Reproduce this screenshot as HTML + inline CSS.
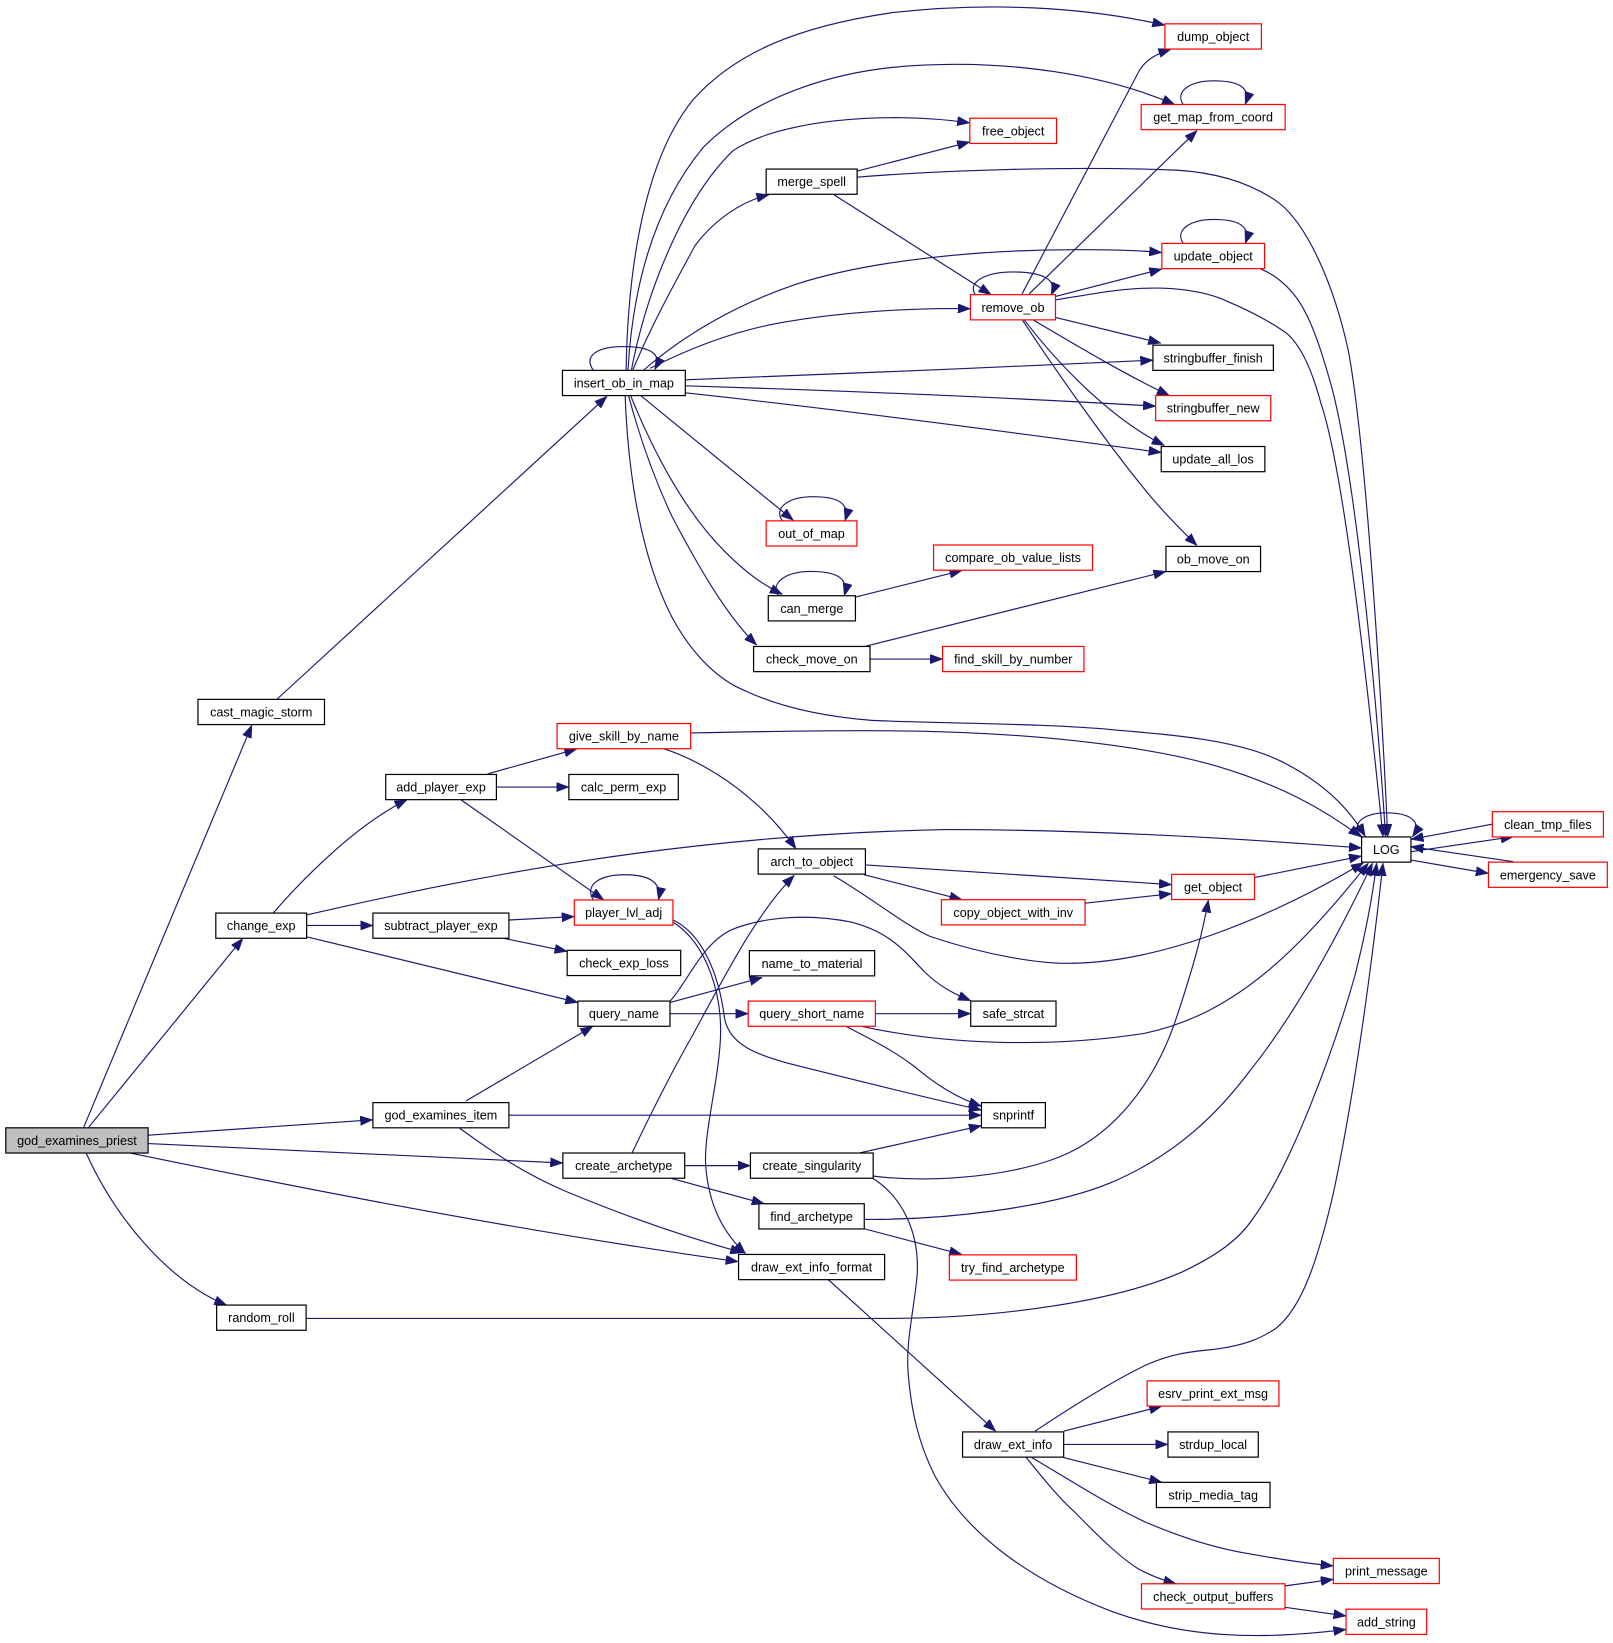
<!DOCTYPE html>
<html><head><meta charset="utf-8"><style>
html,body{margin:0;padding:0;background:#fff;}
svg{display:block;}
.e{fill:none;stroke:#191970;stroke-width:1.1;marker-end:url(#ah);}
.n rect{fill:#fff;stroke:#000;stroke-width:1.15;}
.n.r rect{stroke:#ff0000;}
.n text{font-family:"Liberation Sans",Arial,sans-serif;font-size:12px;text-anchor:middle;fill:#000;}
</style></head><body>
<svg width="1613" height="1643" viewBox="0 0 1536 1564.6" xmlns="http://www.w3.org/2000/svg">
<defs><marker id="ah" viewBox="0 0 12 9" refX="12" refY="4.5" markerWidth="12" markerHeight="9" markerUnits="userSpaceOnUse" orient="auto"><path d="M0,0 L12,4.5 L0,9 z" fill="#191970" stroke="#191970" stroke-width="0.5"/></marker></defs>
<rect width="1536" height="1564.6" fill="#fff"/>
<g>
<path class="e" d="M79.5,1074 L239.8,690.6"/>
<path class="e" d="M84,1074 L231.3,893.5"/>
<path class="e" d="M141.2,1081 L355,1066.4"/>
<path class="e" d="M141.2,1089 L536,1107.5"/>
<path class="e" d="M124,1098 C280,1130 480,1170 703,1201.5"/>
<path class="e" d="M82,1098 C110,1160 160,1220 216,1243"/>
<path class="e" d="M263.6,666 L578,377.4"/>
<path class="e" d="M260.2,869.4 C290,835 340,785 387.7,761.5"/>
<path class="e" d="M291.8,881.3 L355.1,881.3"/>
<path class="e" d="M292.5,871.2 C450,835 650,795 900,790 C1050,790 1200,800 1296.6,807.5"/>
<path class="e" d="M292.5,892.2 L550.3,954.6"/>
<path class="e" d="M464.2,737 L549.3,713.2"/>
<path class="e" d="M472.7,749.5 L541.7,749.5"/>
<path class="e" d="M438.7,761.5 L574.8,856.8"/>
<path class="e" d="M484.6,876.1 L546.9,872.8"/>
<path class="e" d="M479.6,893.5 L540.1,906"/>
<path class="e" d="M565,857 C556,842 572,833 595,833 C616,833 631,839 627,857"/>
<path class="e" d="M640.8,876 C670,890 685,930 690,970 C695,995 720,1005 760,1015 C820,1030 880,1045 934.6,1057"/>
<path class="e" d="M640.8,878 C675,900 688,950 686,990 C684,1030 670,1080 672,1110 C675,1150 690,1175 710,1194"/>
<path class="e" d="M636,955.2 L725.8,930.9"/>
<path class="e" d="M638,965.3 L712.5,965.3"/>
<path class="e" d="M638,953.5 C655,935 670,895 700,884 C730,873 770,870 810,878 C850,888 865,910 880,925 C895,940 910,947 924.4,953"/>
<path class="e" d="M833.6,965.3 L924.4,965.3"/>
<path class="e" d="M805.7,977.4 C830,990 850,1000 870,1015 C890,1032 910,1045 934.6,1053.5"/>
<path class="e" d="M821,977.4 C900,995 1000,998 1090,984 C1180,965 1240,900 1303,822"/>
<path class="e" d="M443.8,1048.4 L564.6,977.3"/>
<path class="e" d="M484.6,1062 L934.6,1062"/>
<path class="e" d="M437,1073.8 C470,1098 500,1118 540,1135 C600,1160 660,1180 707.4,1193"/>
<path class="e" d="M602,1097.6 C620,1060 640,1020 660,985 C690,930 720,870 756.4,833.5"/>
<path class="e" d="M651.9,1110 L714.6,1110"/>
<path class="e" d="M639.4,1122.2 L727.8,1146.3"/>
<path class="e" d="M819,1097.8 L934.6,1072"/>
<path class="e" d="M831.5,1120 C880,1126 950,1122 1000,1105 C1060,1085 1100,1030 1120,970 C1135,925 1145,890 1150.7,857"/>
<path class="e" d="M831,1122 C860,1140 876,1175 873.3,1215 C870,1250 862,1280 865,1310 C868,1345 875,1375 890,1405 C920,1460 980,1505 1060,1535 C1130,1560 1200,1562 1281.8,1551.7"/>
<path class="e" d="M822.4,1161.2 C900,1162 1000,1150 1057,1126.6 C1120,1100 1160,1060 1190,1020 C1230,970 1270,900 1307,822"/>
<path class="e" d="M822.4,1170 L915.9,1194.6"/>
<path class="e" d="M788.4,1218.3 L948.2,1362.9"/>
<path class="e" d="M291.4,1255.5 L850,1255.5 C950,1255 1060,1240 1125,1211.6 C1160,1195 1180,1180 1193,1160.6 C1230,1110 1270,1000 1290,930 C1300,890 1306,860 1311,822"/>
<path class="e" d="M985.6,1362.9 C1020,1340 1060,1315 1091,1300 C1120,1287 1140,1287 1159,1284.6 C1185,1281 1200,1275 1215,1265 C1240,1245 1255,1200 1270,1135 C1290,1040 1305,930 1317,822"/>
<path class="e" d="M1012.9,1362.9 L1106.4,1339.1"/>
<path class="e" d="M1012.9,1375.5 L1112.2,1375.5"/>
<path class="e" d="M1012.9,1388 L1106.4,1411.6"/>
<path class="e" d="M982.2,1387.8 C1020,1410 1050,1430 1091,1449.6 C1130,1466 1160,1475 1193,1480.3 C1220,1485 1245,1489 1269.7,1491.2"/>
<path class="e" d="M977.2,1387.8 C995,1410 1010,1428 1023,1439.5 C1045,1462 1065,1482 1084,1494 C1095,1500 1108,1505 1120,1508.2"/>
<path class="e" d="M1223.7,1510.2 L1269.7,1504"/>
<path class="e" d="M1223.7,1530.6 L1281.8,1538.8"/>
<path class="e" d="M1195,835.6 L1296.6,815.2"/>
<path class="e" d="M824.4,823.7 L1115.7,842.4"/>
<path class="e" d="M822.7,832.9 L916.2,856.8"/>
<path class="e" d="M793.8,834 C830,855 860,880 885.6,891.7 C940,910 990,918 1021.7,917.3 C1100,916 1200,880 1298.5,821.5"/>
<path class="e" d="M1033.3,860.1 L1115.7,851"/>
<path class="e" d="M657.8,698 C750,696 850,695 900,697 C1000,700 1100,712 1160,730 C1220,748 1260,770 1296,797"/>
<path class="e" d="M632.6,713.2 C660,722 690,740 710,757 C730,773 745,790 758,808.4"/>
<path class="e" d="M596.2,352.7 C598,250 615,150 660,95 C700,50 760,25 850,12 C940,2 1030,6 1109.3,24"/>
<path class="e" d="M598,352.7 C602,280 620,200 670,140 C720,90 800,65 880,62 C960,58 1050,70 1118.6,99.5"/>
<path class="e" d="M601.2,352.7 C615,280 650,190 697.9,143.6 C740,115 840,105 923.5,117"/>
<path class="e" d="M602.5,352.7 C620,310 645,265 661.9,233.8 C680,210 705,192 732.3,185.4"/>
<path class="e" d="M612.6,352.7 C650,320 700,290 760,270 C830,248 930,238 1021.8,237.8 C1060,237.5 1085,238.5 1106.4,240.5"/>
<path class="e" d="M619.2,350.7 C660,330 700,315 743.7,307.3 C800,297 870,293 924.1,294"/>
<path class="e" d="M652.6,361.7 C800,356 950,350 1097.9,343"/>
<path class="e" d="M652.6,367.4 C800,372 950,378 1100.5,386.8"/>
<path class="e" d="M652.6,374.1 C800,390 950,410 1105.8,430.9"/>
<path class="e" d="M609.5,376.2 L755.5,495.5"/>
<path class="e" d="M600.5,376.7 C620,425 650,485 690,525 C710,545 725,556 745,566"/>
<path class="e" d="M598.4,376.2 C610,420 625,460 640,492 C660,530 690,585 720.6,614.2"/>
<path class="e" d="M595.3,376.7 C598,450 610,530 640,588 C660,625 685,648 710,658 C740,672 780,682 830,686 C900,689 1000,689 1060,695 C1120,700 1180,705 1220,725 C1260,745 1285,770 1300,796.5"/>
<path class="e" d="M565,352.7 C555,338 570,330 594,330 C615,330 632,335 623.5,352"/>
<path class="e" d="M815.9,163 L923.5,135.2"/>
<path class="e" d="M815.9,168.7 C900,162 1020,158 1120.2,162 C1170,165 1200,180 1218.6,193.7 C1245,215 1270,270 1284,334 C1300,420 1315,650 1321.5,796.8"/>
<path class="e" d="M793,184.7 L943.8,280.6"/>
<path class="e" d="M929,281 C920,268 940,259 965,259 C990,259 1008,265 1001,281"/>
<path class="e" d="M973.3,279.9 L1085,67 C1092,56 1102,51 1115.2,46.8"/>
<path class="e" d="M980,279.9 L1139.9,124.3"/>
<path class="e" d="M1005.1,282.3 L1106.4,256.2"/>
<path class="e" d="M1005.1,285.6 C1040,280 1060,276 1087.4,274.6 C1120,273 1150,278 1169.4,287.3 C1195,298 1215,310 1225.1,317.3 C1240,330 1250,355 1257.9,384.1 C1280,450 1302,650 1317,796.8"/>
<path class="e" d="M1005.1,302.3 L1105.4,326.7"/>
<path class="e" d="M983.2,304.3 C1020,326 1070,356 1113.6,376.7"/>
<path class="e" d="M975,304.3 C1010,350 1060,400 1108.8,424.2"/>
<path class="e" d="M973.3,304.3 C1010,360 1060,430 1095,472 C1110,490 1125,505 1139.9,519.4"/>
<path class="e" d="M1126.7,99.5 C1118,86 1135,77 1156,77 C1177,77 1192,82 1185.8,99.5"/>
<path class="e" d="M1126.7,231.8 C1118,218 1135,209 1156,209 C1177,209 1192,214 1185.8,231.8"/>
<path class="e" d="M1200.6,256.2 C1215,262 1226,272 1234.9,283.9 C1250,305 1260,340 1267.8,367.4 C1290,450 1310,650 1319.5,796.8"/>
<path class="e" d="M745,496 C736,483 752,473 774,473 C796,473 810,478 804.7,496"/>
<path class="e" d="M741.1,567.3 C733,554 750,544.2 772,544.2 C794,544.2 809,549 804,567.3"/>
<path class="e" d="M814.6,568.6 L916.2,543.2"/>
<path class="e" d="M824.4,615.3 L1110.3,544.2"/>
<path class="e" d="M828.5,627.6 L897.6,627.6"/>
<path class="e" d="M1297,797 C1285,785 1298,774 1320,774 C1340,774 1356,781 1345,797"/>
<path class="e" d="M1343.6,811 L1441.1,796.8"/>
<path class="e" d="M1343.6,819 L1417.4,831.7"/>
<path class="e" d="M1421.5,784.7 L1343.6,799.3"/>
<path class="e" d="M1441.1,820.6 L1343.6,806.3"/>
</g>
<g class="n"><rect x="5.5" y="1074" width="135.5" height="24" style="fill:#bfbfbf"/><text x="73.25" y="1090.3">god_examines_priest</text></g>
<g class="n"><rect x="188.5" y="666" width="120.5" height="24"/><text x="248.75" y="682.3">cast_magic_storm</text></g>
<g class="n"><rect x="205.5" y="869.5" width="86.5" height="24"/><text x="248.75" y="885.8">change_exp</text></g>
<g class="n"><rect x="206.3" y="1242.8" width="85.2" height="24"/><text x="248.9" y="1259.1">random_roll</text></g>
<g class="n"><rect x="355.1" y="1050" width="129.5" height="24"/><text x="419.85" y="1066.3">god_examines_item</text></g>
<g class="n"><rect x="367.3" y="737.5" width="105.4" height="24"/><text x="420" y="753.8">add_player_exp</text></g>
<g class="n"><rect x="355.1" y="869.5" width="129.5" height="24"/><text x="419.85" y="885.8">subtract_player_exp</text></g>
<g class="n"><rect x="535.6" y="352.7" width="117" height="24"/><text x="594.1" y="369">insert_ob_in_map</text></g>
<g class="n"><rect x="536" y="1098" width="116" height="24"/><text x="594" y="1114.3">create_archetype</text></g>
<g class="n"><rect x="550.3" y="953.3" width="87.7" height="24"/><text x="594.15" y="969.6">query_name</text></g>
<g class="n r"><rect x="530.5" y="689" width="127.2" height="24"/><text x="594.1" y="705.3">give_skill_by_name</text></g>
<g class="n"><rect x="541.7" y="737.5" width="104.2" height="24"/><text x="593.8" y="753.8">calc_perm_exp</text></g>
<g class="n r"><rect x="546.9" y="857" width="93.9" height="24"/><text x="593.85" y="873.3">player_lvl_adj</text></g>
<g class="n"><rect x="540.1" y="905" width="108.1" height="24"/><text x="594.15" y="921.3">check_exp_loss</text></g>
<g class="n"><rect x="729.6" y="161" width="86.6" height="24"/><text x="772.9" y="177.3">merge_spell</text></g>
<g class="n r"><rect x="729.6" y="496" width="86.4" height="24"/><text x="772.8" y="512.3">out_of_map</text></g>
<g class="n"><rect x="731.6" y="567.3" width="83" height="24"/><text x="773.1" y="583.6">can_merge</text></g>
<g class="n"><rect x="717.6" y="615.6" width="110.9" height="24"/><text x="773.05" y="631.9">check_move_on</text></g>
<g class="n"><rect x="722" y="808.4" width="102.1" height="24"/><text x="773.05" y="824.7">arch_to_object</text></g>
<g class="n"><rect x="713.6" y="905.3" width="119.3" height="24"/><text x="773.25" y="921.6">name_to_material</text></g>
<g class="n r"><rect x="712.5" y="953.3" width="121.1" height="24"/><text x="773.05" y="969.6">query_short_name</text></g>
<g class="n"><rect x="714.6" y="1098" width="116.9" height="24"/><text x="773.05" y="1114.3">create_singularity</text></g>
<g class="n"><rect x="722.7" y="1146.3" width="100.3" height="24"/><text x="772.85" y="1162.6">find_archetype</text></g>
<g class="n"><rect x="703.3" y="1194.6" width="139.1" height="24"/><text x="772.85" y="1210.9">draw_ext_info_format</text></g>
<g class="n r"><rect x="923.5" y="112.6" width="82.6" height="24"/><text x="964.8" y="128.9">free_object</text></g>
<g class="n r"><rect x="924.1" y="280.6" width="81" height="24"/><text x="964.6" y="296.9">remove_ob</text></g>
<g class="n r"><rect x="889" y="519" width="151.4" height="24"/><text x="964.7" y="535.3">compare_ob_value_lists</text></g>
<g class="n r"><rect x="897.6" y="615.6" width="134.6" height="24"/><text x="964.9" y="631.9">find_skill_by_number</text></g>
<g class="n r"><rect x="896.5" y="856.8" width="136.8" height="24"/><text x="964.9" y="873.1">copy_object_with_inv</text></g>
<g class="n"><rect x="924.4" y="953.3" width="81.2" height="24"/><text x="965" y="969.6">safe_strcat</text></g>
<g class="n"><rect x="934.6" y="1050" width="60.9" height="24"/><text x="965.05" y="1066.3">snprintf</text></g>
<g class="n r"><rect x="904" y="1195" width="121" height="24"/><text x="964.5" y="1211.3">try_find_archetype</text></g>
<g class="n"><rect x="916.6" y="1363.6" width="96.3" height="24"/><text x="964.75" y="1379.9">draw_ext_info</text></g>
<g class="n r"><rect x="1109.3" y="22.7" width="91.9" height="24"/><text x="1155.25" y="39">dump_object</text></g>
<g class="n r"><rect x="1086.7" y="99.5" width="137.1" height="24"/><text x="1155.25" y="115.8">get_map_from_coord</text></g>
<g class="n r"><rect x="1106.4" y="231.8" width="97.8" height="24"/><text x="1155.3" y="248.1">update_object</text></g>
<g class="n"><rect x="1097.9" y="328.7" width="114.7" height="24"/><text x="1155.25" y="345">stringbuffer_finish</text></g>
<g class="n r"><rect x="1100.5" y="376.7" width="109.6" height="24"/><text x="1155.3" y="393">stringbuffer_new</text></g>
<g class="n"><rect x="1105.8" y="425.2" width="98.7" height="24"/><text x="1155.15" y="441.5">update_all_los</text></g>
<g class="n"><rect x="1110.3" y="520.3" width="90.1" height="24"/><text x="1155.35" y="536.6">ob_move_on</text></g>
<g class="n r"><rect x="1115.7" y="832.6" width="78.9" height="24"/><text x="1155.15" y="848.9">get_object</text></g>
<g class="n r"><rect x="1092.4" y="1315" width="125.5" height="24"/><text x="1155.15" y="1331.3">esrv_print_ext_msg</text></g>
<g class="n"><rect x="1112.2" y="1363.6" width="86" height="24"/><text x="1155.2" y="1379.9">strdup_local</text></g>
<g class="n"><rect x="1101.2" y="1411.6" width="108.2" height="24"/><text x="1155.3" y="1427.9">strip_media_tag</text></g>
<g class="n r"><rect x="1087" y="1508.2" width="136.7" height="24"/><text x="1155.35" y="1524.5">check_output_buffers</text></g>
<g class="n"><rect x="1296.6" y="797" width="47" height="24"/><text x="1320.1" y="813.3">LOG</text></g>
<g class="n r"><rect x="1421.1" y="773" width="105.8" height="24"/><text x="1474" y="789.3">clean_tmp_files</text></g>
<g class="n r"><rect x="1417.4" y="821" width="113.2" height="24"/><text x="1474" y="837.3">emergency_save</text></g>
<g class="n r"><rect x="1269.7" y="1484" width="100.9" height="24"/><text x="1320.15" y="1500.3">print_message</text></g>
<g class="n r"><rect x="1281.8" y="1532.4" width="76.8" height="24"/><text x="1320.2" y="1548.7">add_string</text></g>
</svg>
</body></html>
